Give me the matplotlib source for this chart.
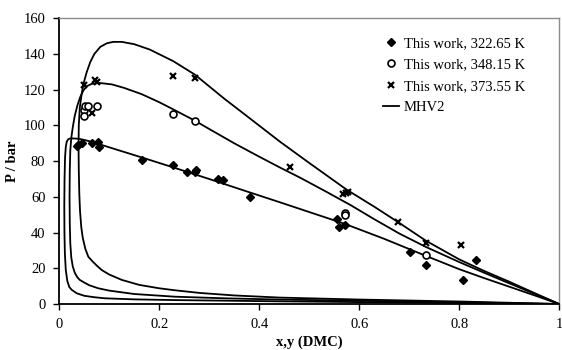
import matplotlib
matplotlib.use("Agg")
import matplotlib.pyplot as plt
from matplotlib.lines import Line2D

plt.rcParams["font.family"] = ["Liberation Serif", "DejaVu Serif"]

x_322 = [0.035, 0.038, 0.045, 0.065, 0.077, 0.079, 0.166, 0.228, 0.255, 0.271,
         0.273, 0.318, 0.328, 0.381, 0.556, 0.560, 0.572, 0.701, 0.733, 0.808, 0.833]
p_322 = [88.6, 89.2, 90.1, 90.2, 90.7, 87.9, 80.9, 77.6, 74.2, 74.0,
         75.2, 69.9, 69.6, 59.8, 47.5, 43.0, 44.3, 29.3, 21.9, 13.5, 24.7]

x_348 = [0.049, 0.050, 0.051, 0.058, 0.076, 0.228, 0.271, 0.571, 0.571, 0.733]
p_348 = [108.4, 105.5, 110.7, 111.0, 111.0, 106.5, 102.7, 50.9, 49.8, 27.5]

x_373 = [0.050, 0.072, 0.075, 0.065, 0.228, 0.271, 0.461, 0.567, 0.573, 0.578,
         0.677, 0.733, 0.803]
p_373 = [122.9, 125.3, 124.5, 107.0, 127.9, 126.6, 77.0, 61.8, 62.4, 62.8,
         46.2, 34.0, 33.3]

# MHV2 envelopes (bubble branch, then dew branch back to x = 1)
mx_322 = [1.0, 0.95, 0.9, 0.85, 0.8, 0.733, 0.65, 0.57, 0.5, 0.441, 0.381, 0.3,
          0.228, 0.166, 0.12, 0.08, 0.06, 0.04, 0.03, 0.022, 0.018, 0.015, 0.013,
          0.0115, 0.0105, 0.010, 0.0103, 0.0112, 0.013, 0.016, 0.02, 0.025, 0.035,
          0.05, 0.07, 0.091, 0.15, 0.23, 0.44, 0.7, 1.0]
mp_322 = [0.0, 4.9, 9.7, 14.5, 19.5, 27.0, 36.5, 45.0, 51.5, 57.0, 62.5, 70.0,
          76.5, 82.0, 86.0, 89.5, 91.2, 92.5, 92.7, 92.7, 92.3, 91.0, 88.0,
          82.0, 70.0, 55.0, 40.0, 28.0, 19.0, 13.0, 9.5, 7.9, 6.0,
          4.6, 3.8, 3.2, 2.6, 2.2, 1.5, 0.8, 0.0]

mx_348 = [1.0, 0.95, 0.9, 0.85, 0.8, 0.733, 0.68, 0.63, 0.582, 0.53, 0.48, 0.441,
          0.4, 0.35, 0.3, 0.271, 0.228, 0.2, 0.165, 0.13, 0.105, 0.08, 0.065,
          0.055, 0.048, 0.042, 0.036, 0.031, 0.027, 0.024, 0.022, 0.021, 0.0205,
          0.021, 0.022, 0.024, 0.027, 0.031, 0.036, 0.041, 0.05, 0.06, 0.078,
          0.1, 0.15, 0.231, 0.33, 0.44, 0.6, 0.8, 1.0]
mp_348 = [0.0, 5.8, 11.6, 17.5, 23.5, 32.0, 39.5, 47.5, 55.5, 63.5, 71.0, 76.5,
          82.5, 90.0, 98.0, 102.7, 109.0, 113.0, 117.5, 121.0, 123.0, 123.8, 123.3,
          122.0, 119.5, 116.0, 111.0, 105.5, 99.0, 93.0, 86.0, 75.0, 60.0,
          45.0, 34.0, 26.0, 21.0, 17.5, 15.0, 13.5, 12.0, 10.5, 8.8,
          7.5, 5.6, 4.1, 3.2, 2.5, 1.8, 1.0, 0.0]

mx_373 = [1.0, 0.95, 0.9, 0.85, 0.8, 0.733, 0.677, 0.63, 0.575, 0.5, 0.441, 0.381,
          0.33, 0.271, 0.228, 0.181, 0.15, 0.125, 0.108, 0.095, 0.082, 0.07,
          0.062, 0.055, 0.049, 0.045, 0.041, 0.039, 0.0385, 0.039, 0.040, 0.0415,
          0.044, 0.047, 0.052, 0.058, 0.066, 0.075, 0.085, 0.1, 0.125, 0.16, 0.2,
          0.231, 0.281, 0.35, 0.441, 0.6, 0.8, 1.0]
mp_373 = [0.0, 6.2, 12.5, 18.5, 25.0, 35.5, 46.0, 54.5, 64.0, 79.0, 91.0, 104.0,
          115.0, 128.5, 136.0, 142.5, 145.5, 146.8, 146.8, 146.0, 144.0, 140.0,
          135.5, 130.0, 124.0, 118.0, 110.0, 100.0, 88.0, 75.0, 62.0, 52.0,
          43.0, 37.0, 31.0, 26.5, 24.0, 21.5, 19.0, 16.5, 13.5, 10.7, 8.8,
          7.7, 6.2, 4.8, 3.6, 2.5, 1.4, 0.0]

fig = plt.figure(figsize=(5.62, 3.5), dpi=100)
ax = fig.add_axes([0.1055, 0.1314, 0.8895, 0.8163])

for mx, mp in [(mx_322, mp_322), (mx_348, mp_348), (mx_373, mp_373)]:
    ax.plot(mx, mp, color="black", lw=1.3, zorder=2)

ax.plot(x_322, p_322, ls="none", marker="D", ms=3.8, color="black", zorder=3)
ax.plot(x_348, p_348, ls="none", marker="o", ms=5, mfc="white", mec="black",
        mew=1.2, zorder=3)
ax.plot(x_373, p_373, ls="none", marker="x", ms=5, color="black", mew=1.6,
        zorder=3)

ax.set_xlim(0, 1)
ax.set_ylim(0, 160)
ax.set_xticks([0, 0.2, 0.4, 0.6, 0.8, 1])
ax.set_xticklabels(["0", "0.2", "0.4", "0.6", "0.8", "1"])
ax.set_yticks(range(0, 161, 20))
ax.tick_params(direction="out", length=4, width=1, labelsize=10.5, pad=6)

for side in ["top", "right"]:
    ax.spines[side].set_color("#8c8c8c")
    ax.spines[side].set_linewidth(1)
for side in ["left", "bottom"]:
    ax.spines[side].set_color("black")
    ax.spines[side].set_linewidth(1.3)

ax.set_xlabel("x,y (DMC)", fontsize=10.5, fontweight="bold", labelpad=3)
ax.set_ylabel("P / bar", fontsize=10.5, fontweight="bold", labelpad=3)

handles = [
    Line2D([], [], ls="none", marker="D", ms=3.8, color="black"),
    Line2D([], [], ls="none", marker="o", ms=5, mfc="white", mec="black", mew=1.2),
    Line2D([], [], ls="none", marker="x", ms=5, color="black", mew=1.6),
    Line2D([], [], color="black", lw=1.3),
]
labels = ["This work, 322.65 K", "This work, 348.15 K", "This work, 373.55 K", "MHV2"]
ax.legend(handles, labels, loc="upper right", bbox_to_anchor=(0.958, 0.98),
          frameon=False, fontsize=10.5, handlelength=1.1, handletextpad=0.3,
          labelspacing=0.55)

fig.savefig("out.png", dpi=100)
